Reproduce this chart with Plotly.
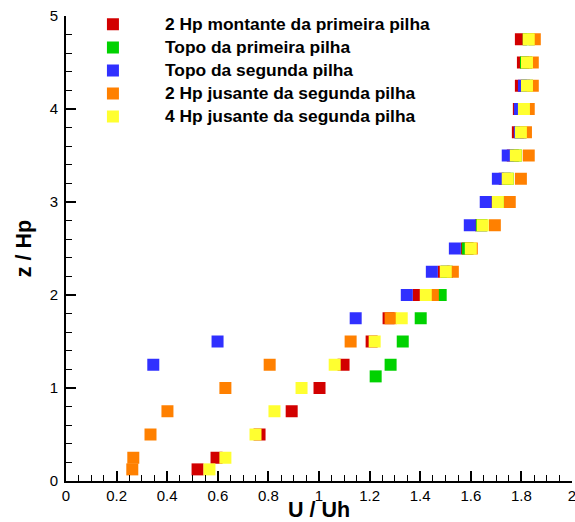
import plotly.graph_objects as go

# Data (U/Uh vs z/Hp)
z_red = [0.125, 0.25, 0.5, 0.75, 1.0, 1.25, 1.5, 1.75, 2.0, 2.25, 2.5, 2.75, 3.0, 3.25, 3.5, 3.75, 4.0, 4.25, 4.5, 4.75]
u_red = [0.520, 0.595, 0.765, 0.892, 1.002, 1.097, 1.208, 1.275, 1.394, 1.493, 1.584, 1.640, 1.695, 1.734, 1.766, 1.786, 1.790, 1.798, 1.806, 1.798]

z_green = [1.125, 1.25, 1.5, 1.75, 2.0, 2.25, 2.5, 2.75, 3.0, 3.25, 3.5, 3.75, 4.0, 4.25, 4.5, 4.75]
u_green = [1.224, 1.283, 1.331, 1.402, 1.481, 1.505, 1.588, 1.643, 1.707, 1.746, 1.778, 1.798, 1.810, 1.822, 1.818, 1.829]

z_blue = [1.25, 1.5, 1.75, 2.0, 2.25, 2.5, 2.75, 3.0, 3.25, 3.5, 3.75, 4.0, 4.25]
u_blue = [0.345, 0.599, 1.145, 1.347, 1.446, 1.537, 1.596, 1.659, 1.707, 1.746, 1.794, 1.794, 1.810]

z_orange = [0.125, 0.25, 0.5, 0.75, 1.0, 1.25, 1.5, 1.75, 2.0, 2.25, 2.5, 2.75, 3.0, 3.25, 3.5, 3.75, 4.0, 4.25, 4.5, 4.75]
u_orange = [0.262, 0.266, 0.334, 0.401, 0.630, 0.805, 1.125, 1.283, 1.450, 1.529, 1.604, 1.695, 1.754, 1.798, 1.829, 1.818, 1.829, 1.845, 1.845, 1.853]

z_yellow = [0.125, 0.25, 0.5, 0.75, 1.0, 1.25, 1.5, 1.75, 2.0, 2.25, 2.5, 2.75, 3.0, 3.25, 3.5, 3.75, 4.0, 4.25, 4.5, 4.75]
u_yellow = [0.567, 0.630, 0.749, 0.824, 0.931, 1.062, 1.220, 1.327, 1.422, 1.501, 1.600, 1.647, 1.707, 1.746, 1.778, 1.798, 1.810, 1.822, 1.822, 1.829]

x_ticks = [0, 0.2, 0.4, 0.6, 0.8, 1.0, 1.2, 1.4, 1.6, 1.8, 2.0]
x_ticktext = ["0", "0.2", "0.4", "0.6", "0.8", "1", "1.2", "1.4", "1.6", "1.8", "2"]
y_ticks = [0, 1, 2, 3, 4, 5]

names = ["2 Hp montante da primeira pilha", "Topo da primeira pilha", "Topo da segunda pilha",
         "2 Hp jusante da segunda pilha", "4 Hp jusante da segunda pilha"]
colors = ["#d20000", "#00d200", "#3030ff", "#ff8000", "#ffff30"]

series = [(u_red, z_red), (u_green, z_green), (u_blue, z_blue), (u_orange, z_orange), (u_yellow, z_yellow)]

FONT = "Liberation Sans, Arial, sans-serif"

fig = go.Figure()
for (u, z), name, col in zip(series, names, colors):
    fig.add_trace(go.Scatter(
        x=u, y=z, mode="markers",
        name='<span style="font-size:17.4px">' + name + '</span>',
        marker=dict(symbol="square", size=12, color=col, line=dict(width=0)),
        cliponaxis=False,
    ))

axis_common = dict(
    showgrid=False, zeroline=False, showline=True, linecolor="black", linewidth=2,
    ticks="inside", ticklen=10, tickwidth=2, tickcolor="black",
    tickfont=dict(family=FONT, size=15, color="black"),
    mirror=False, tickmode="array", ticklabeloverflow="allow",
)

fig.update_layout(
    width=575, height=522,
    margin=dict(l=66, r=3, t=16, b=41, autoexpand=False),
    plot_bgcolor="white", paper_bgcolor="white",
    showlegend=True,
    legend=dict(
        x=-0.01, y=1.0175, xanchor="left", yanchor="top",
        bgcolor="rgba(0,0,0,0)",
        font=dict(family=FONT, size=15.4, color="black", weight="bold"),
        itemwidth=94, tracegroupgap=0,
    ),
    xaxis=dict(
        range=[0, 2], tickvals=x_ticks, ticktext=x_ticktext,
        title=dict(text="<b>U / Uh</b>", font=dict(family=FONT, size=21.5, color="black"), standoff=1),
        minor=dict(ticks="inside", ticklen=6, tickwidth=1, tickcolor="black",
                   tickmode="linear", tick0=0, dtick=0.05),
        **axis_common,
    ),
    yaxis=dict(
        range=[0, 5], tickvals=y_ticks,
        ticklabelstandoff=3,
        title=dict(text="<b>z / Hp</b>", font=dict(family=FONT, size=21.5, color="black"), standoff=12),
        minor=dict(ticks="inside", ticklen=6, tickwidth=1, tickcolor="black",
                   tickmode="linear", tick0=0, dtick=0.2),
        **axis_common,
    ),
)

fig.write_html("out.html", config={"displayModeBar": False},
               post_script="document.body.style.margin='0';")
